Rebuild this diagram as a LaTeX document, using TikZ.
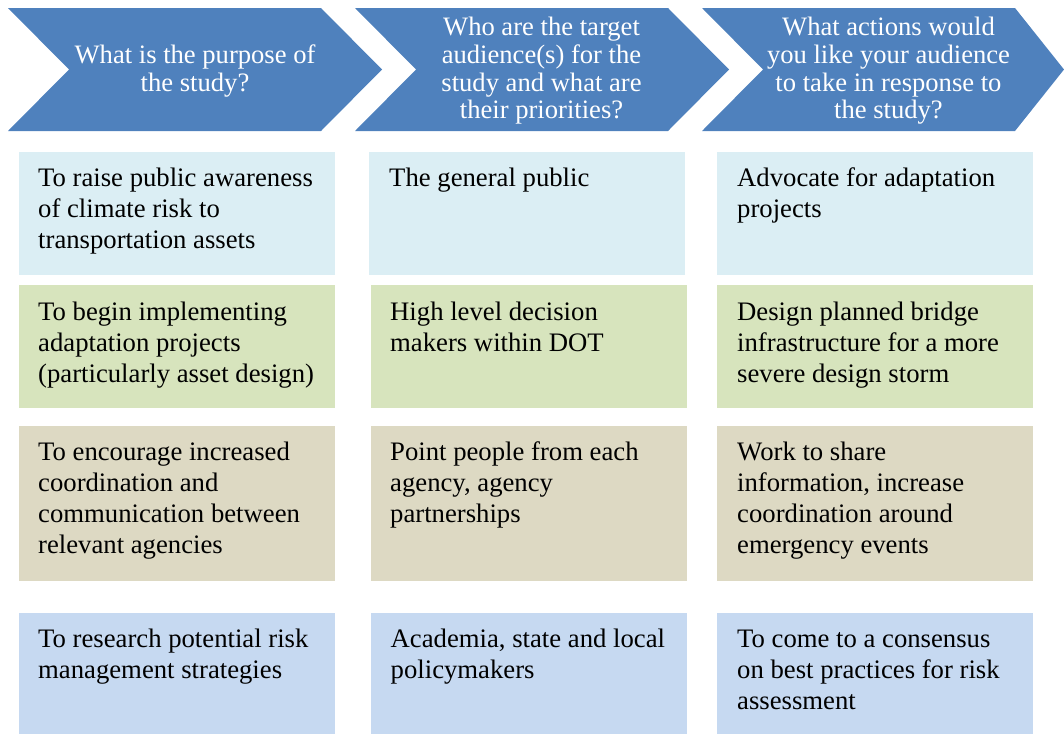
\documentclass[tikz,border=0pt]{standalone}
\usepackage{fontspec}
\setmainfont{Liberation Serif}
\definecolor{chev}{RGB}{79,129,189}
\definecolor{rowA}{RGB}{219,238,244}
\definecolor{rowB}{RGB}{215,228,189}
\definecolor{rowC}{RGB}{221,217,195}
\definecolor{rowD}{RGB}{198,217,241}
\tikzset{
  chevshape/.style={fill=chev, draw=none},
  chevtext/.style={text=white, align=center, inner sep=0pt,
    font=\fontsize{26.6}{27.7}\selectfont},
  cell/.style={draw=none, inner sep=0pt, anchor=north west},
  celltext/.style={inner sep=0pt, anchor=base west, text=black,
    font=\fontsize{26.7}{31}\selectfont},
}
\newcommand{\celltxt}[1]{\parbox[t]{320pt}{\raggedright #1}}
\begin{document}
\begin{tikzpicture}[x=1pt,y=-1pt]
\useasboundingbox (0,0) rectangle (1064,734);
% chevrons
\fill[chevshape] (8,8) -- (321,8) -- (382,69.5) -- (321,131) -- (8,131) -- (69,69.5) -- cycle;
\fill[chevshape] (355,8) -- (668,8) -- (729,69.5) -- (668,131) -- (355,131) -- (416,69.5) -- cycle;
\fill[chevshape] (702,8) -- (1015,8) -- (1064,69.5) -- (1015,131) -- (702,131) -- (763,69.5) -- cycle;
\node[chevtext] (h1) at (195,71) {What is the purpose of\\the study?};
\node[chevtext] (h2) at (541.5,71) {Who are the target\\audience(s) for the\\study and what are\\their priorities?};
\node[chevtext] (h3) at (888.5,71) {What actions would\\you like your audience\\to take in response to\\the study?};
% row 1
\node[cell, fill=rowA, minimum width=316pt, minimum height=123pt] (a1) at (19,152) {};
\node[cell, fill=rowA, minimum width=316pt, minimum height=123pt] (b1) at (369,152) {};
\node[cell, fill=rowA, minimum width=316pt, minimum height=123pt] (c1) at (717,152) {};
% row 2
\node[cell, fill=rowB, minimum width=316pt, minimum height=123pt] (a2) at (19,285) {};
\node[cell, fill=rowB, minimum width=316pt, minimum height=123pt] (b2) at (371,285) {};
\node[cell, fill=rowB, minimum width=316pt, minimum height=123pt] (c2) at (717,285) {};
% row 3
\node[cell, fill=rowC, minimum width=316pt, minimum height=155pt] (a3) at (19,426) {};
\node[cell, fill=rowC, minimum width=316pt, minimum height=155pt] (b3) at (371,426) {};
\node[cell, fill=rowC, minimum width=316pt, minimum height=155pt] (c3) at (717,426) {};
% row 4
\node[cell, fill=rowD, minimum width=316pt, minimum height=121pt] (a4) at (19,613) {};
\node[cell, fill=rowD, minimum width=316pt, minimum height=121pt] (b4) at (371,613) {};
\node[cell, fill=rowD, minimum width=316pt, minimum height=121pt] (c4) at (717,613) {};
% texts
\node[celltext] (ta1) at ([xshift=19pt,yshift=-34pt]a1.north west) {\celltxt{To raise public awareness\\of climate risk to\\transportation assets}};
\node[celltext] (tb1) at ([xshift=20pt,yshift=-34.5pt]b1.north west) {\celltxt{The general public}};
\node[celltext] (tc1) at ([xshift=20pt,yshift=-34.5pt]c1.north west) {\celltxt{Advocate for adaptation\\projects}};
\node[celltext] (ta2) at ([xshift=19pt,yshift=-35pt]a2.north west) {\celltxt{To begin implementing\\adaptation projects\\(particularly asset design)}};
\node[celltext] (tb2) at ([xshift=19pt,yshift=-35pt]b2.north west) {\celltxt{High level decision\\makers within DOT}};
\node[celltext] (tc2) at ([xshift=20pt,yshift=-35pt]c2.north west) {\celltxt{Design planned bridge\\infrastructure for a more\\severe design storm}};
\node[celltext] (ta3) at ([xshift=19pt,yshift=-34pt]a3.north west) {\celltxt{To encourage increased\\coordination and\\communication between\\relevant agencies}};
\node[celltext] (tb3) at ([xshift=19pt,yshift=-34.5pt]b3.north west) {\celltxt{Point people from each\\agency, agency\\partnerships}};
\node[celltext] (tc3) at ([xshift=20pt,yshift=-34.5pt]c3.north west) {\celltxt{Work to share\\information, increase\\coordination around\\emergency events}};
\node[celltext] (ta4) at ([xshift=19pt,yshift=-34pt]a4.north west) {\celltxt{To research potential risk\\management strategies}};
\node[celltext] (tb4) at ([xshift=19.5pt,yshift=-34pt]b4.north west) {\celltxt{Academia, state and local\\policymakers}};
\node[celltext] (tc4) at ([xshift=20pt,yshift=-34pt]c4.north west) {\celltxt{To come to a consensus\\on best practices for risk\\assessment}};
\end{tikzpicture}
\end{document}
